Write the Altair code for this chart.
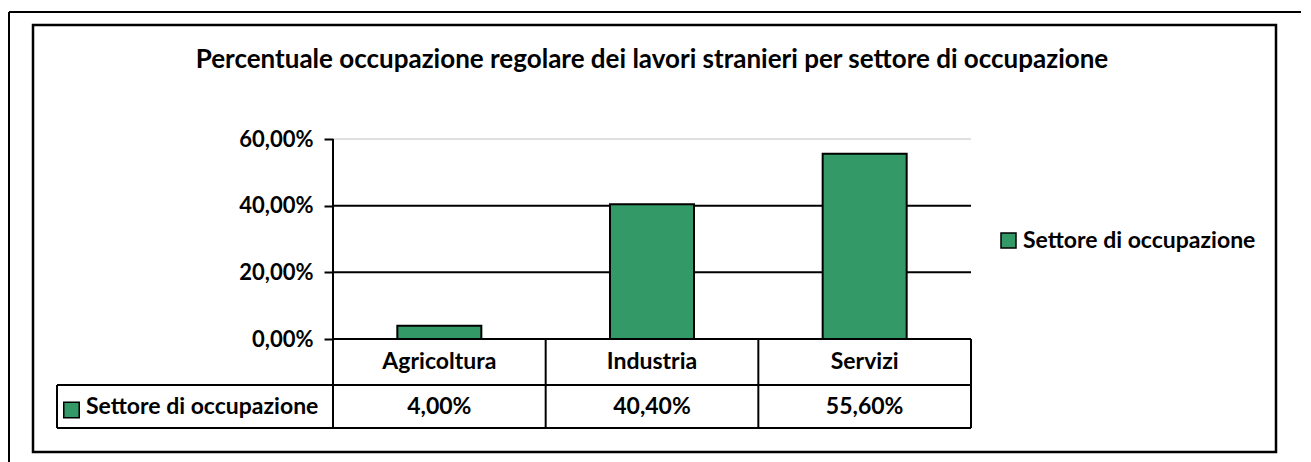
import altair as alt
import pandas as pd

# ---- data ----
categories = ["Agricoltura", "Industria", "Servizi"]
values = [0.04, 0.404, 0.556]
series_name = "Settore di occupazione"
y_ticks = [0.0, 0.2, 0.4, 0.6]
title_text = "Percentuale occupazione regolare dei lavori stranieri per settore di occupazione"

FONT = "Lato"
GREEN = "#339966"
W, H = 638, 200
FS = 23

df = pd.DataFrame({"cat": categories, "value": values, "serie": [series_name] * len(categories)})
df_ticks = pd.DataFrame({"v": y_ticks})
one = pd.DataFrame({"a": [0]})

fmt = "replace(format(datum.value, '.2%'), '.', ',')"

xscale = alt.Scale(domain=categories, paddingInner=0, paddingOuter=0)
yscale = alt.Scale(domain=[0, 0.6], nice=False, zero=True)
yaxis = alt.Axis(values=y_ticks, labelExpr=fmt, domain=False, grid=False, ticks=True,
                 tickSize=9, tickColor="black", tickWidth=2, labelFont=FONT,
                 labelFontWeight="bold", labelFontSize=22, labelColor="black",
                 labelPadding=11, title=None)

X = alt.X("cat:N", scale=xscale, axis=None, sort=categories)

grid = alt.Chart(df_ticks).mark_rule().encode(
    y=alt.Y("v:Q", scale=yscale, axis=yaxis),
    x=alt.value(0), x2=alt.value(W),
    color=alt.condition("datum.v >= 0.6", alt.value("#c0c0c0"), alt.value("black")),
    strokeWidth=alt.condition("datum.v >= 0.6", alt.value(1), alt.value(2)),
)

bars = alt.Chart(df).mark_bar(stroke="black", strokeWidth=2, width={"band": 0.395}).encode(
    x=X,
    y=alt.Y("value:Q", scale=yscale, axis=yaxis),
    color=alt.Color("serie:N", scale=alt.Scale(domain=[series_name], range=[GREEN]),
                    legend=alt.Legend(orient="none", legendX=664, legendY=90, title=None,
                                      symbolType="square", symbolSize=225,
                                      symbolStrokeColor="black", symbolStrokeWidth=1.5,
                                      labelFont=FONT, labelFontSize=FS, labelFontWeight="bold",
                                      labelColor="black", labelOffset=3, labelLimit=0)),
)

# data table: vertical separators at band edges
vlines = alt.Chart(df).mark_rule(color="black", strokeWidth=2).encode(
    x=alt.X("cat:N", scale=xscale, axis=None, sort=categories, bandPosition=0),
    y=alt.value(200), y2=alt.value(289),
)
deco = [
    alt.Chart(one).mark_rule(color="black", strokeWidth=2).encode(x=alt.value(W), y=alt.value(200), y2=alt.value(289)),
    alt.Chart(one).mark_rule(color="black", strokeWidth=2).encode(x=alt.value(0), y=alt.value(0), y2=alt.value(289)),
    alt.Chart(one).mark_rule(color="black", strokeWidth=2).encode(x=alt.value(-276), x2=alt.value(W), y=alt.value(246)),
    alt.Chart(one).mark_rule(color="black", strokeWidth=2).encode(x=alt.value(-276), x2=alt.value(W), y=alt.value(289)),
    alt.Chart(one).mark_rule(color="black", strokeWidth=2).encode(x=alt.value(-276), y=alt.value(246), y2=alt.value(289)),
    # inner chart frame
    alt.Chart(one).mark_rect(filled=False, stroke="black", strokeWidth=2.5).encode(
        x=alt.value(-300), x2=alt.value(943), y=alt.value(-114), y2=alt.value(313)),
    # outer frame
    alt.Chart(one).mark_rule(color="black", strokeWidth=2).encode(x=alt.value(-324), x2=alt.value(970), y=alt.value(-127)),
    alt.Chart(one).mark_rule(color="black", strokeWidth=2).encode(x=alt.value(-324), y=alt.value(-127), y2=alt.value(323)),
]

cat_text = alt.Chart(df).mark_text(font=FONT, fontSize=FS, fontWeight="bold", color="black",
                                   baseline="middle", align="center").encode(
    x=alt.X("cat:N", scale=xscale, axis=None, sort=categories, bandPosition=0.5),
    y=alt.value(223), text="cat:N",
)
val_text = alt.Chart(df).transform_calculate(lbl=fmt).mark_text(
    font=FONT, fontSize=FS, fontWeight="bold", color="black", baseline="middle", align="center").encode(
    x=alt.X("cat:N", scale=xscale, axis=None, sort=categories, bandPosition=0.5),
    y=alt.value(268), text="lbl:N",
)
hdr_sq = alt.Chart(one).mark_square(size=240, fill=GREEN, fillOpacity=1, stroke="black", strokeWidth=1.5).encode(
    x=alt.value(-261.5), y=alt.value(271))
hdr_txt = alt.Chart(one).mark_text(text=series_name, font=FONT, fontSize=FS, fontWeight="bold",
                                   color="black", align="left", baseline="middle").encode(
    x=alt.value(-247), y=alt.value(268))
title = alt.Chart(one).mark_text(text=title_text, font=FONT, fontSize=26, fontWeight="bold",
                                 color="black", align="center", baseline="alphabetic").encode(
    x=alt.value(319), y=alt.value(-71))

chart = alt.layer(grid, bars, vlines, *deco, cat_text, val_text, hdr_sq, hdr_txt, title).properties(
    width=W, height=H,
    padding={"left": 325, "top": 131, "right": 330, "bottom": 123},
    autosize=alt.AutoSizeParams(type="none"),
).configure_view(strokeWidth=0)

chart.save("out.html", embed_options={"renderer": "svg", "actions": False})
